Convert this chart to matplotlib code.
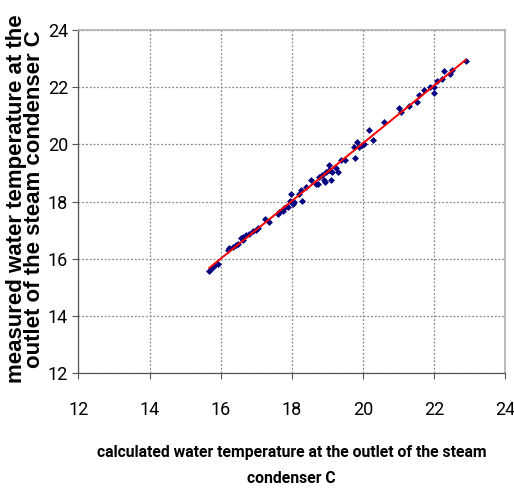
import numpy as np
import matplotlib
matplotlib.use('Agg')
import matplotlib.pyplot as plt

# calculated vs measured outlet temperature of the steam condenser
calc_temp = [15.68, 15.73, 15.82, 15.92, 16.20, 16.24, 16.34, 16.43, 16.49, 16.57,
             16.62, 16.64, 16.71, 16.80, 16.90, 16.99, 17.06, 17.25, 17.36, 17.60,
             17.64, 17.74, 17.78, 17.88, 17.94, 17.97, 18.02, 18.06, 18.20, 18.25,
             18.30, 18.39, 18.53, 18.67, 18.73, 18.76, 18.86, 18.90, 18.93, 18.95,
             19.04, 19.06, 19.09, 19.14, 19.23, 19.31, 19.37, 19.51, 19.75, 19.79,
             19.84, 19.88, 19.98, 20.03, 20.17, 20.28, 20.59, 21.01, 21.08, 21.29,
             21.52, 21.57, 21.71, 21.89, 21.99, 22.01, 22.08, 22.22, 22.29, 22.45,
             22.52, 22.89]
meas_temp = [15.57, 15.64, 15.75, 15.81, 16.30, 16.38, 16.42, 16.48, 16.51, 16.71,
             16.77, 16.65, 16.83, 16.88, 16.97, 17.00, 17.08, 17.38, 17.29, 17.58,
             17.64, 17.66, 17.76, 17.81, 18.01, 18.28, 17.93, 17.99, 18.28, 18.40,
             18.01, 18.51, 18.75, 18.63, 18.60, 18.86, 18.92, 18.75, 18.69, 19.04,
             19.27, 19.10, 18.75, 19.04, 19.16, 19.04, 19.45, 19.47, 19.91, 19.51,
             20.09, 19.91, 19.97, 20.03, 20.50, 20.15, 20.77, 21.26, 21.14, 21.35,
             21.49, 21.72, 21.90, 22.01, 22.01, 21.81, 22.21, 22.30, 22.56, 22.48,
             22.59, 22.91]
ticks = [12, 14, 16, 18, 20, 22, 24]

narrow = ['Roboto', 'Liberation Sans', 'DejaVu Sans']

fig = plt.figure(figsize=(5.14, 4.93), dpi=100)
ax = fig.add_axes([0.1527, 0.2434, 0.830, 0.6956])

x = np.array(calc_temp)
y = np.array(meas_temp)
ax.plot(x, y, linestyle='none', marker='D', markersize=3.5,
        color='#000080', markeredgewidth=0, zorder=3)

# linear trendline
k, b = np.polyfit(x, y, 1)
xs = np.array([x.min(), x.max()])
ax.plot(xs, k * xs + b, color='#ff0000', lw=1.4, zorder=4)

ax.set_xlim(12, 24)
ax.set_ylim(12, 24)
ax.set_xticks(ticks)
ax.set_yticks(ticks)
ax.set_xticklabels([str(t) for t in ticks], family=narrow, fontsize=13)
ax.set_yticklabels([str(t) for t in ticks], family=narrow, fontsize=13)
ax.tick_params(direction='out', length=4.5, width=0.8, color='#555555')
ax.tick_params(axis='y', pad=3)
ax.tick_params(axis='x', pad=16)

ax.grid(True, color='#888888', linestyle=(0, (1.5, 1.5)), lw=0.9)
ax.set_axisbelow(True)
for side in ['left', 'bottom']:
    ax.spines[side].set_color('#555555')
    ax.spines[side].set_linewidth(0.9)
for side in ['top', 'right']:
    ax.spines[side].set_color('#b0b0b0')
    ax.spines[side].set_linewidth(1.2)

fig.text(0.567, 0.098, 'calculated water temperature at the outlet of the steam\ncondenser C',
         ha='center', va='top', family=narrow, fontweight='bold', fontsize=11.3,
         linespacing=1.95)
fig.text(0.05, 0.596, 'measured water temperature at the\noutlet of the steam condenser C',
         ha='center', va='center', rotation=90, family=['Liberation Sans', 'DejaVu Sans'],
         fontweight='bold', fontsize=16, linespacing=0.82)

fig.savefig('out.png', dpi=100)
